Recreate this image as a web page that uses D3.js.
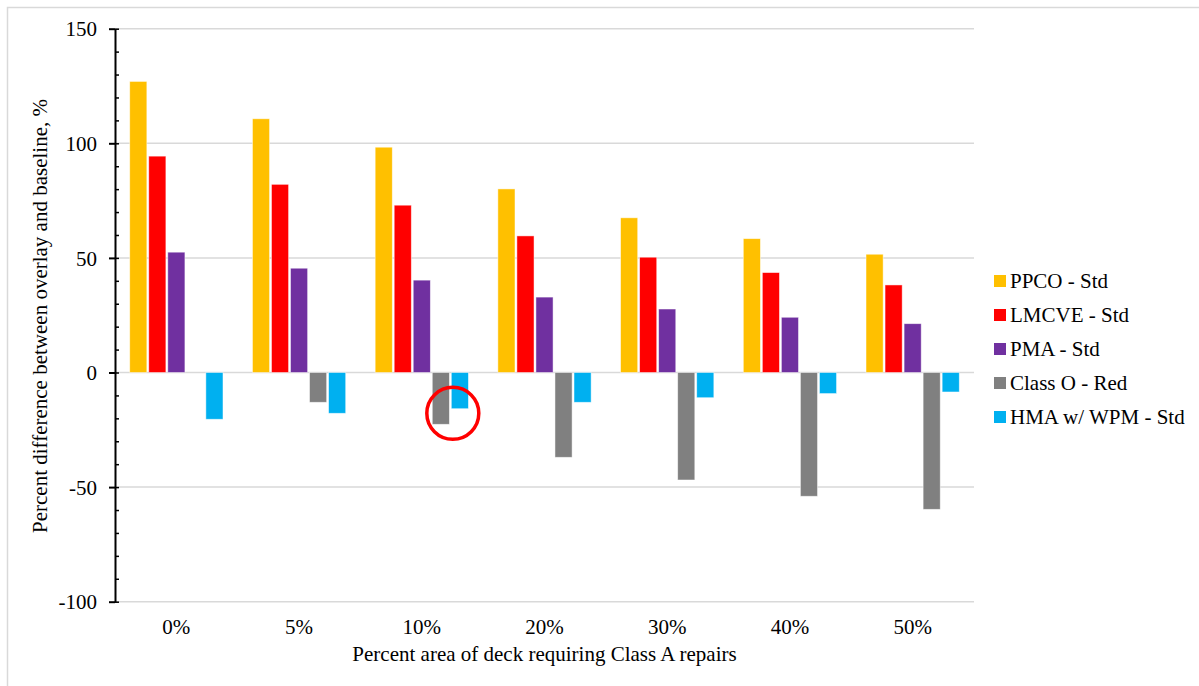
<!DOCTYPE html>
<html>
<head>
<meta charset="utf-8">
<script src="https://cdn.jsdelivr.net/npm/d3@7"></script>
<style>
  html, body { margin: 0; padding: 0; background: #fff; }
  svg { display: block; }
  svg text { font-family: "Liberation Serif", "DejaVu Serif", serif; font-size: 21px; fill: #000; }
</style>
</head>
<body>
<svg id="chart" width="1199" height="686"></svg>
<script>
// Percent-area categories along the x axis
const categories = ["0%", "5%", "10%", "20%", "30%", "40%", "50%"];

// Series names (legend order) and colours
const seriesNames = ["PPCO - Std", "LMCVE - Std", "PMA - Std", "Class O - Red", "HMA w/ WPM - Std"];
const seriesColors = ["#FFC000", "#FF0000", "#7030A0", "#808080", "#00B0F0"];

// Percent difference between overlay and baseline, per series
const ppco   = [127.0, 110.7, 98.3, 80.1, 67.5, 58.4, 51.6];
const lmcve  = [94.4, 82.1, 73.0, 59.6, 50.3, 43.6, 38.2];
const pma    = [52.5, 45.5, 40.3, 32.9, 27.7, 24.1, 21.3];
const classO = [0, -13.0, -22.6, -37.0, -46.9, -54.0, -59.7];
const hma    = [-20.4, -17.8, -15.8, -13.0, -11.0, -9.2, -8.5];

// Y axis tick labels
const yMajorTicks = [-100, -50, 0, 50, 100, 150];
const yMinorTicks = d3.range(-100, 151, 10);

const seriesValues = [ppco, lmcve, pma, classO, hma];

const svg = d3.select("#chart");

// Outer frame
svg.append("rect")
  .attr("x", 7.5).attr("y", 7.5)
  .attr("width", 1300).attr("height", 800)
  .attr("fill", "none").attr("stroke", "#d9d9d9").attr("stroke-width", 1.5);

const plot = { left: 115, right: 974, top: 28.7, bottom: 601.7 };

const y = d3.scaleLinear().domain([-100, 150]).range([plot.bottom, plot.top]);
const x0 = d3.scaleBand().domain(categories).range([plot.left, plot.right])
  .paddingInner(0.24).paddingOuter(0.12);
const x1 = d3.scaleBand().domain(seriesNames).range([0, x0.bandwidth()])
  .paddingInner(0.1);

// Horizontal gridlines
svg.append("g").selectAll("line").data(yMajorTicks).join("line")
  .attr("x1", plot.left).attr("x2", plot.right)
  .attr("y1", d => y(d)).attr("y2", d => y(d))
  .attr("stroke", "#d9d9d9").attr("stroke-width", 1.5);

// Bars
const groups = svg.append("g").selectAll("g").data(categories).join("g")
  .attr("transform", c => `translate(${x0(c)},0)`);

groups.selectAll("rect")
  .data((c, i) => seriesNames.map((s, k) => ({ s, k, v: seriesValues[k][i] })))
  .join("rect")
  .attr("x", d => x1(d.s))
  .attr("width", x1.bandwidth())
  .attr("y", d => y(Math.max(0, d.v)))
  .attr("height", d => Math.abs(y(d.v) - y(0)))
  .attr("fill", d => seriesColors[d.k])
  .attr("stroke", "rgba(255,255,255,0.6)")
  .attr("stroke-width", 0.8);

// Y axis: minor ticks inside, major ticks crossing
const yMinor = svg.append("g").attr("transform", `translate(${plot.left},0)`)
  .call(d3.axisLeft(y).tickValues(yMinorTicks).tickSizeInner(-4).tickSizeOuter(0).tickFormat(""));
yMinor.select(".domain").remove();
yMinor.selectAll("line").attr("stroke", "#000").attr("stroke-width", 1.5);

const yAxis = svg.append("g").attr("transform", `translate(${plot.left},0)`)
  .call(d3.axisLeft(y).tickValues(yMajorTicks).tickSizeInner(6).tickSizeOuter(0)
    .tickPadding(12).tickFormat(d => String(d)));
yAxis.attr("font-family", null).attr("font-size", null);
yAxis.select(".domain").attr("stroke", "#000").attr("stroke-width", 2);
yAxis.selectAll(".tick line").attr("stroke", "#000").attr("stroke-width", 2);
yAxis.selectAll(".tick text").attr("fill", null).attr("dy", "0.34em");

// X category labels
svg.append("g").selectAll("text").data(categories).join("text")
  .attr("x", c => x0(c) + x0.bandwidth() / 2)
  .attr("y", 634)
  .attr("text-anchor", "middle")
  .text(c => c);

// Axis titles
svg.append("text")
  .attr("x", (plot.left + plot.right) / 2).attr("y", 661)
  .attr("text-anchor", "middle")
  .text("Percent area of deck requiring Class A repairs");

svg.append("text")
  .attr("transform", "translate(47,316) rotate(-90)")
  .attr("text-anchor", "middle")
  .text("Percent difference between overlay and baseline, %");

// Highlight circle around the 10% Class O / HMA bars
svg.append("circle")
  .attr("cx", x0("10%") + x1("Class O - Red") + x1.step() * 1.08)
  .attr("cy", y(-17.8))
  .attr("r", 26)
  .attr("fill", "none").attr("stroke", "#FF0000").attr("stroke-width", 3.5);

// Legend
const legend = svg.append("g").selectAll("g").data(seriesNames).join("g")
  .attr("transform", (d, i) => `translate(994,${281 + i * 34})`);
legend.append("rect")
  .attr("x", 0).attr("y", -6).attr("width", 12).attr("height", 12)
  .attr("fill", (d, i) => seriesColors[i]);
legend.append("text")
  .attr("x", 16).attr("y", 7)
  .text(d => d);
</script>
</body>
</html>
